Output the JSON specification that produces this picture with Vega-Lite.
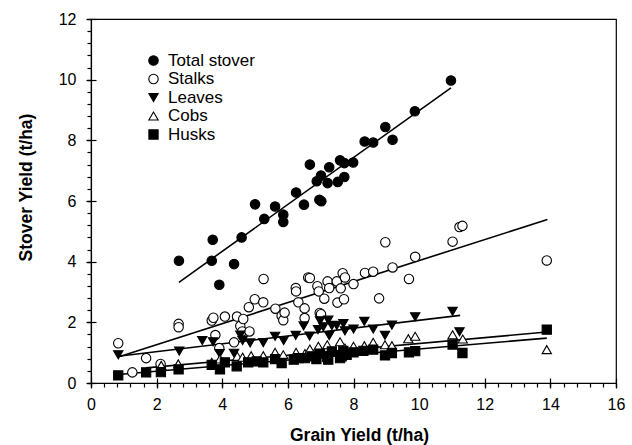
{
  "$schema": "https://vega.github.io/schema/vega-lite/v6.json",
  "width": 525,
  "height": 364,
  "autosize": "none",
  "padding": {"left": 91, "top": 19, "right": 16, "bottom": 62},
  "background": "white",
  "config": {
    "view": {"stroke": "black", "strokeWidth": 1.2},
    "font": "Liberation Sans",
    "axis": {"grid": false, "domainColor": "black", "tickColor": "black", "labelColor": "black", "titleColor": "black", "domainWidth": 1.2, "tickWidth": 1.2, "labelFont": "Liberation Sans", "titleFont": "Liberation Sans"}
  },
  "datasets": {
    "pts": [
      {"series": "Total stover", "x": 2.68, "y": 4.03},
      {"series": "Total stover", "x": 3.68, "y": 4.03},
      {"series": "Total stover", "x": 3.71, "y": 4.72},
      {"series": "Total stover", "x": 3.91, "y": 3.24},
      {"series": "Total stover", "x": 4.36, "y": 3.92},
      {"series": "Total stover", "x": 4.59, "y": 4.8},
      {"series": "Total stover", "x": 5.0, "y": 5.89},
      {"series": "Total stover", "x": 5.28, "y": 5.41},
      {"series": "Total stover", "x": 5.61, "y": 5.82},
      {"series": "Total stover", "x": 5.86, "y": 5.55},
      {"series": "Total stover", "x": 5.86, "y": 5.31},
      {"series": "Total stover", "x": 6.25, "y": 6.28},
      {"series": "Total stover", "x": 6.49, "y": 5.88},
      {"series": "Total stover", "x": 6.67, "y": 7.2},
      {"series": "Total stover", "x": 6.88, "y": 6.65},
      {"series": "Total stover", "x": 6.96, "y": 6.04},
      {"series": "Total stover", "x": 7.02, "y": 5.99},
      {"series": "Total stover", "x": 7.01, "y": 6.84},
      {"series": "Total stover", "x": 7.21, "y": 6.59},
      {"series": "Total stover", "x": 7.26, "y": 7.11},
      {"series": "Total stover", "x": 7.52, "y": 6.63},
      {"series": "Total stover", "x": 7.59, "y": 7.34},
      {"series": "Total stover", "x": 7.72, "y": 7.25},
      {"series": "Total stover", "x": 7.72, "y": 6.79},
      {"series": "Total stover", "x": 7.99, "y": 7.27},
      {"series": "Total stover", "x": 8.34, "y": 7.96},
      {"series": "Total stover", "x": 8.6, "y": 7.93},
      {"series": "Total stover", "x": 8.97, "y": 8.44},
      {"series": "Total stover", "x": 9.19, "y": 8.02},
      {"series": "Total stover", "x": 9.87, "y": 8.96},
      {"series": "Total stover", "x": 10.97, "y": 9.97},
      {"series": "Stalks", "x": 0.83, "y": 1.31},
      {"series": "Stalks", "x": 1.26, "y": 0.35},
      {"series": "Stalks", "x": 1.68, "y": 0.82},
      {"series": "Stalks", "x": 2.12, "y": 0.63},
      {"series": "Stalks", "x": 2.67, "y": 1.95},
      {"series": "Stalks", "x": 2.67, "y": 1.84},
      {"series": "Stalks", "x": 3.68, "y": 2.06},
      {"series": "Stalks", "x": 3.73, "y": 2.15},
      {"series": "Stalks", "x": 3.79, "y": 1.58},
      {"series": "Stalks", "x": 3.91, "y": 1.15},
      {"series": "Stalks", "x": 4.08, "y": 2.19},
      {"series": "Stalks", "x": 4.36, "y": 1.34},
      {"series": "Stalks", "x": 4.45, "y": 2.19},
      {"series": "Stalks", "x": 4.55, "y": 1.88},
      {"series": "Stalks", "x": 4.64, "y": 2.11},
      {"series": "Stalks", "x": 4.61, "y": 1.7},
      {"series": "Stalks", "x": 4.83, "y": 1.7},
      {"series": "Stalks", "x": 4.81, "y": 2.5},
      {"series": "Stalks", "x": 4.99, "y": 2.76},
      {"series": "Stalks", "x": 5.25, "y": 2.66},
      {"series": "Stalks", "x": 5.26, "y": 3.43},
      {"series": "Stalks", "x": 5.62, "y": 2.45},
      {"series": "Stalks", "x": 5.81, "y": 2.22},
      {"series": "Stalks", "x": 5.86, "y": 2.07},
      {"series": "Stalks", "x": 5.9, "y": 2.32},
      {"series": "Stalks", "x": 6.24, "y": 3.13},
      {"series": "Stalks", "x": 6.25, "y": 3.02},
      {"series": "Stalks", "x": 6.32, "y": 2.66},
      {"series": "Stalks", "x": 6.51, "y": 2.46},
      {"series": "Stalks", "x": 6.51, "y": 2.14},
      {"series": "Stalks", "x": 6.62, "y": 3.48},
      {"series": "Stalks", "x": 6.67, "y": 3.46},
      {"series": "Stalks", "x": 6.9, "y": 3.19},
      {"series": "Stalks", "x": 6.94, "y": 3.02},
      {"series": "Stalks", "x": 6.97, "y": 2.31},
      {"series": "Stalks", "x": 7.01, "y": 2.27},
      {"series": "Stalks", "x": 7.11, "y": 2.78},
      {"series": "Stalks", "x": 7.21, "y": 3.35},
      {"series": "Stalks", "x": 7.26, "y": 3.13},
      {"series": "Stalks", "x": 7.49, "y": 3.35},
      {"series": "Stalks", "x": 7.51, "y": 2.65},
      {"series": "Stalks", "x": 7.61, "y": 3.12},
      {"series": "Stalks", "x": 7.67, "y": 3.62},
      {"series": "Stalks", "x": 7.74, "y": 3.48},
      {"series": "Stalks", "x": 7.71, "y": 2.76},
      {"series": "Stalks", "x": 8.0, "y": 3.26},
      {"series": "Stalks", "x": 8.35, "y": 3.63},
      {"series": "Stalks", "x": 8.6, "y": 3.67},
      {"series": "Stalks", "x": 8.78, "y": 2.79},
      {"series": "Stalks", "x": 8.97, "y": 4.64},
      {"series": "Stalks", "x": 9.19, "y": 3.81},
      {"series": "Stalks", "x": 9.69, "y": 3.43},
      {"series": "Stalks", "x": 9.88, "y": 4.16},
      {"series": "Stalks", "x": 11.02, "y": 4.66},
      {"series": "Stalks", "x": 11.23, "y": 5.14},
      {"series": "Stalks", "x": 11.32, "y": 5.18},
      {"series": "Stalks", "x": 13.89, "y": 4.04},
      {"series": "Leaves", "x": 0.83, "y": 0.93},
      {"series": "Leaves", "x": 2.69, "y": 1.05},
      {"series": "Leaves", "x": 3.39, "y": 1.4},
      {"series": "Leaves", "x": 3.72, "y": 1.36},
      {"series": "Leaves", "x": 3.92, "y": 0.97},
      {"series": "Leaves", "x": 4.36, "y": 0.98},
      {"series": "Leaves", "x": 4.55, "y": 1.58},
      {"series": "Leaves", "x": 4.62, "y": 1.4},
      {"series": "Leaves", "x": 4.85, "y": 1.32},
      {"series": "Leaves", "x": 5.25, "y": 1.33},
      {"series": "Leaves", "x": 5.61, "y": 1.54},
      {"series": "Leaves", "x": 5.87, "y": 1.4},
      {"series": "Leaves", "x": 6.24, "y": 1.57},
      {"series": "Leaves", "x": 6.48, "y": 1.88},
      {"series": "Leaves", "x": 6.66, "y": 1.55},
      {"series": "Leaves", "x": 6.92, "y": 1.76},
      {"series": "Leaves", "x": 6.98, "y": 2.05},
      {"series": "Leaves", "x": 7.08, "y": 1.85},
      {"series": "Leaves", "x": 7.23, "y": 2.07},
      {"series": "Leaves", "x": 7.26, "y": 1.56},
      {"series": "Leaves", "x": 7.34, "y": 1.89},
      {"series": "Leaves", "x": 7.49, "y": 1.9},
      {"series": "Leaves", "x": 7.69, "y": 1.96},
      {"series": "Leaves", "x": 7.74, "y": 1.72},
      {"series": "Leaves", "x": 8.0, "y": 1.78},
      {"series": "Leaves", "x": 8.33, "y": 2.03},
      {"series": "Leaves", "x": 8.6, "y": 1.78},
      {"series": "Leaves", "x": 8.96, "y": 1.57},
      {"series": "Leaves", "x": 9.17, "y": 1.91},
      {"series": "Leaves", "x": 9.88, "y": 2.18},
      {"series": "Leaves", "x": 11.02, "y": 2.36},
      {"series": "Leaves", "x": 11.23, "y": 1.69},
      {"series": "Cobs", "x": 2.14, "y": 0.58},
      {"series": "Cobs", "x": 2.66, "y": 0.63},
      {"series": "Cobs", "x": 3.68, "y": 0.68},
      {"series": "Cobs", "x": 3.93, "y": 0.79},
      {"series": "Cobs", "x": 4.46, "y": 0.88},
      {"series": "Cobs", "x": 4.62, "y": 0.85},
      {"series": "Cobs", "x": 4.88, "y": 0.9},
      {"series": "Cobs", "x": 5.25, "y": 0.9},
      {"series": "Cobs", "x": 5.61, "y": 1.01},
      {"series": "Cobs", "x": 5.86, "y": 0.93},
      {"series": "Cobs", "x": 6.25, "y": 1.01},
      {"series": "Cobs", "x": 6.52, "y": 0.97},
      {"series": "Cobs", "x": 6.67, "y": 1.12},
      {"series": "Cobs", "x": 6.93, "y": 1.21},
      {"series": "Cobs", "x": 7.2, "y": 1.26},
      {"series": "Cobs", "x": 7.59, "y": 1.36},
      {"series": "Cobs", "x": 7.74, "y": 1.15},
      {"series": "Cobs", "x": 8.0, "y": 1.21},
      {"series": "Cobs", "x": 8.33, "y": 1.23},
      {"series": "Cobs", "x": 8.6, "y": 1.34},
      {"series": "Cobs", "x": 8.96, "y": 1.26},
      {"series": "Cobs", "x": 9.17, "y": 1.23},
      {"series": "Cobs", "x": 9.67, "y": 1.46},
      {"series": "Cobs", "x": 9.88, "y": 1.54},
      {"series": "Cobs", "x": 11.02, "y": 1.59},
      {"series": "Cobs", "x": 11.33, "y": 1.45},
      {"series": "Cobs", "x": 13.89, "y": 1.1},
      {"series": "Husks", "x": 0.83, "y": 0.25},
      {"series": "Husks", "x": 1.68, "y": 0.35},
      {"series": "Husks", "x": 2.13, "y": 0.36},
      {"series": "Husks", "x": 2.67, "y": 0.45},
      {"series": "Husks", "x": 3.68, "y": 0.6},
      {"series": "Husks", "x": 3.93, "y": 0.45},
      {"series": "Husks", "x": 4.08, "y": 0.68},
      {"series": "Husks", "x": 4.44, "y": 0.55},
      {"series": "Husks", "x": 4.79, "y": 0.68},
      {"series": "Husks", "x": 5.05, "y": 0.71},
      {"series": "Husks", "x": 5.25, "y": 0.68},
      {"series": "Husks", "x": 5.61, "y": 0.79},
      {"series": "Husks", "x": 5.81, "y": 0.66},
      {"series": "Husks", "x": 6.18, "y": 0.77},
      {"series": "Husks", "x": 6.32, "y": 0.82},
      {"series": "Husks", "x": 6.52, "y": 0.82},
      {"series": "Husks", "x": 6.73, "y": 0.88},
      {"series": "Husks", "x": 6.87, "y": 0.79},
      {"series": "Husks", "x": 6.98, "y": 0.97},
      {"series": "Husks", "x": 7.2, "y": 0.86},
      {"series": "Husks", "x": 7.23, "y": 0.77},
      {"series": "Husks", "x": 7.34, "y": 1.04},
      {"series": "Husks", "x": 7.59, "y": 0.82},
      {"series": "Husks", "x": 7.64, "y": 0.88},
      {"series": "Husks", "x": 7.69, "y": 1.06},
      {"series": "Husks", "x": 7.79, "y": 0.93},
      {"series": "Husks", "x": 8.0, "y": 1.01},
      {"series": "Husks", "x": 8.3, "y": 1.06},
      {"series": "Husks", "x": 8.6, "y": 1.1},
      {"series": "Husks", "x": 8.96, "y": 0.91},
      {"series": "Husks", "x": 9.17, "y": 0.99},
      {"series": "Husks", "x": 9.69, "y": 1.01},
      {"series": "Husks", "x": 9.88, "y": 1.05},
      {"series": "Husks", "x": 11.02, "y": 1.27},
      {"series": "Husks", "x": 11.32, "y": 0.99},
      {"series": "Husks", "x": 13.89, "y": 1.76}
    ],
    "lines": [
      {"series": "Total stover", "x": 2.68, "y": 3.32},
      {"series": "Total stover", "x": 10.97, "y": 9.73},
      {"series": "Stalks", "x": 0.83, "y": 0.86},
      {"series": "Stalks", "x": 13.91, "y": 5.39},
      {"series": "Leaves", "x": 0.83, "y": 0.88},
      {"series": "Leaves", "x": 11.25, "y": 2.23},
      {"series": "Cobs", "x": 1.68, "y": 0.5},
      {"series": "Cobs", "x": 13.89, "y": 1.68},
      {"series": "Husks", "x": 0.83, "y": 0.28},
      {"series": "Husks", "x": 13.89, "y": 1.48}
    ]
  },
  "layer": [
    {
      "data": {"name": "lines"},
      "mark": {"type": "line", "color": "black", "strokeWidth": 1.6},
      "encoding": {
        "x": {"field": "x", "type": "quantitative", "scale": {"domain": [0, 16], "nice": false, "zero": false},
          "axis": {"orient": "bottom", "values": [0, 2, 4, 6, 8, 10, 12, 14, 16], "format": "d", "tickSize": 4, "labelPadding": 9.5, "labelFontSize": 16, "labelFlush": false, "title": "Grain Yield (t/ha)", "titleFontSize": 17.5, "titleFontWeight": "bold", "titleX": 268, "titleY": 57.5, "titleBaseline": "alphabetic", "titleAlign": "center"}},
        "y": {"field": "y", "type": "quantitative", "scale": {"domain": [0, 12], "nice": false, "zero": false},
          "axis": {"orient": "left", "values": [0, 2, 4, 6, 8, 10, 12], "format": "d", "tickSize": 4, "labelPadding": 11, "labelFontSize": 16, "labelFlush": false, "title": "Stover Yield (t/ha)", "titleFontSize": 17.5, "titleFontWeight": "bold", "titleX": -60, "titleY": 168, "titleBaseline": "alphabetic", "titleAlign": "center", "titleAngle": -90}},
        "detail": {"field": "series", "type": "nominal"}
      }
    },
    {
      "data": {"name": "pts"},
      "mark": {"type": "point", "filled": true, "strokeWidth": 1.1, "opacity": 1},
      "encoding": {
        "x": {"field": "x", "type": "quantitative",
          "axis": {"orient": "bottom", "values": [0, 0.4, 0.8, 1.2, 1.6, 2, 2.4, 2.8, 3.2, 3.6, 4, 4.4, 4.8, 5.2, 5.6, 6, 6.4, 6.8, 7.2, 7.6, 8, 8.4, 8.8, 9.2, 9.6, 10, 10.4, 10.8, 11.2, 11.6, 12, 12.4, 12.8, 13.2, 13.6, 14, 14.4, 14.8, 15.2, 15.6, 16], "tickSize": 4, "labels": false, "domain": false, "title": null}},
        "y": {"field": "y", "type": "quantitative",
          "axis": {"orient": "left", "values": [0, 0.4, 0.8, 1.2, 1.6, 2, 2.4, 2.8, 3.2, 3.6, 4, 4.4, 4.8, 5.2, 5.6, 6, 6.4, 6.8, 7.2, 7.6, 8, 8.4, 8.8, 9.2, 9.6, 10, 10.4, 10.8, 11.2, 11.6, 12], "tickSize": 4, "labels": false, "domain": false, "title": null}},
        "shape": {"field": "series", "type": "nominal",
          "scale": {"domain": ["Total stover", "Stalks", "Leaves", "Cobs", "Husks"], "range": ["circle", "circle", "triangle-down", "triangle-up", "square"]},
          "legend": {"orient": "none", "legendX": 54, "legendY": 33, "title": null, "padding": 0, "labelFontSize": 17, "labelFont": "Liberation Sans", "labelColor": "black", "labelOffset": 6, "rowPadding": 0.5, "symbolStrokeWidth": 1.1}},
        "fill": {"field": "series", "type": "nominal",
          "scale": {"domain": ["Total stover", "Stalks", "Leaves", "Cobs", "Husks"], "range": ["black", "white", "black", "white", "black"]},
          "legend": {"orient": "none", "legendX": 54, "legendY": 33, "title": null, "padding": 0, "labelFontSize": 17, "labelFont": "Liberation Sans", "labelColor": "black", "labelOffset": 6, "rowPadding": 0.5, "symbolStrokeWidth": 1.1}},
        "stroke": {"field": "series", "type": "nominal",
          "scale": {"domain": ["Total stover", "Stalks", "Leaves", "Cobs", "Husks"], "range": ["black", "black", "black", "black", "black"]},
          "legend": {"orient": "none", "legendX": 54, "legendY": 33, "title": null, "padding": 0, "labelFontSize": 17, "labelFont": "Liberation Sans", "labelColor": "black", "labelOffset": 6, "rowPadding": 0.5, "symbolStrokeWidth": 1.1}},
        "size": {"field": "series", "type": "nominal",
          "scale": {"domain": ["Total stover", "Stalks", "Leaves", "Cobs", "Husks"], "range": [90, 85, 110, 100, 72]},
          "legend": {"orient": "none", "legendX": 54, "legendY": 33, "title": null, "padding": 0, "labelFontSize": 17, "labelFont": "Liberation Sans", "labelColor": "black", "labelOffset": 6, "rowPadding": 0.5, "symbolStrokeWidth": 1.1}}
      }
    },
    {
      "data": {"name": "lines"},
      "mark": {"type": "point", "opacity": 0},
      "encoding": {
        "x": {"field": "x", "type": "quantitative",
          "axis": {"orient": "bottom", "values": [0, 2, 4, 6, 8, 10, 12, 14, 16], "tickSize": 10, "offset": -5, "labels": false, "domain": false, "title": null}},
        "y": {"field": "y", "type": "quantitative",
          "axis": {"orient": "left", "values": [0, 2, 4, 6, 8, 10, 12], "tickSize": 10, "offset": -5, "labels": false, "domain": false, "title": null}}
      }
    }
  ],
  "resolve": {"axis": {"x": "independent", "y": "independent"}}
}
